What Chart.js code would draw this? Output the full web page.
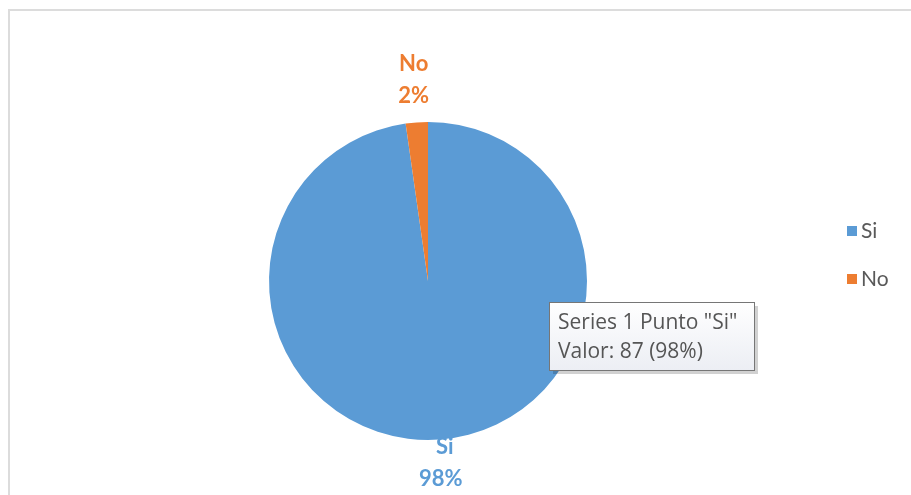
<!DOCTYPE html>
<html><head><meta charset="utf-8">
<script src="https://cdn.jsdelivr.net/npm/chart.js@4/dist/chart.umd.min.js"></script>
<style>
html,body{margin:0;padding:0;background:#fff;}
#wrap{position:relative;width:911px;height:495px;overflow:hidden;}
#frame{position:absolute;left:8px;top:9px;width:1000px;height:600px;border-left:2px solid #dcdcdc;border-top:2px solid #dcdcdc;}
canvas{position:absolute;left:0;top:0;}
</style></head>
<body><div id="wrap"><div id="frame"></div><canvas id="c" width="911" height="495"></canvas></div>
<script>
const categories = ["Si", "No"];
const values = [87, 2];
const percentLabels = ["98%", "2%"];
const seriesName = "Series 1";
const colors = ["#5B9BD5", "#ED7D31"];

const total = values.reduce((a,b)=>a+b,0);

const labelPlugin = {
  id: 'labels',
  afterDraw(chart) {
    const ctx = chart.ctx;
    const meta = chart.getDatasetMeta(0);
    const offsets = [22, 44];
    ctx.save();
    ctx.font = 'bold 22px Lato';
    ctx.textAlign = 'center';
    ctx.textBaseline = 'middle';
    meta.data.forEach((arc, i) => {
      const mid = (arc.startAngle + arc.endAngle) / 2;
      const r = arc.outerRadius + offsets[i];
      const x = arc.x + Math.cos(mid) * r;
      const y = arc.y + Math.sin(mid) * r;
      ctx.fillStyle = colors[i];
      ctx.fillText(categories[i], x + (i===0?4:0), y - 15);
      ctx.fillText(percentLabels[i], x, y + 17);
    });
    // legend
    ctx.font = '21px Lato';
    ctx.textAlign = 'left';
    categories.forEach((c, i) => {
      const ly = 231 + i * 48;
      ctx.fillStyle = colors[i];
      ctx.fillRect(847, ly - 5, 10, 10);
      ctx.fillStyle = '#595959';
      ctx.fillText(c, 861, ly);
    });
    // tooltip
    const tx = 549, ty = 302, tw = 205, th = 68;
    ctx.fillStyle = 'rgba(0,0,0,0.18)';
    ctx.fillRect(tx + 4, ty + 4, tw, th);
    const g = ctx.createLinearGradient(0, ty, 0, ty + th);
    g.addColorStop(0, '#ffffff');
    g.addColorStop(1, '#eceef4');
    ctx.fillStyle = g;
    ctx.fillRect(tx, ty, tw, th);
    ctx.strokeStyle = '#767676';
    ctx.lineWidth = 1;
    ctx.strokeRect(tx + 0.5, ty + 0.5, tw, th);
    ctx.fillStyle = '#555555';
    ctx.font = '21px "Open Sans"';
    ctx.textBaseline = 'alphabetic';
    const pct = Math.round(values[0] / total * 100);
    ctx.fillText(seriesName + ' Punto "' + categories[0] + '"', tx + 9, ty + 27);
    ctx.fillText('Valor: ' + values[0] + ' (' + pct + '%)', tx + 9, ty + 56);
    ctx.restore();
  }
};

new Chart(document.getElementById('c'), {
  type: 'pie',
  data: {
    labels: categories,
    datasets: [{ label: seriesName, data: values, backgroundColor: colors, borderWidth: 0 }]
  },
  options: {
    responsive: false,
    animation: false,
    layout: { padding: { left: 269, right: 324, top: 122, bottom: 55 } },
    plugins: { legend: { display: false }, tooltip: { enabled: false } }
  },
  plugins: [labelPlugin]
});
</script></body></html>
